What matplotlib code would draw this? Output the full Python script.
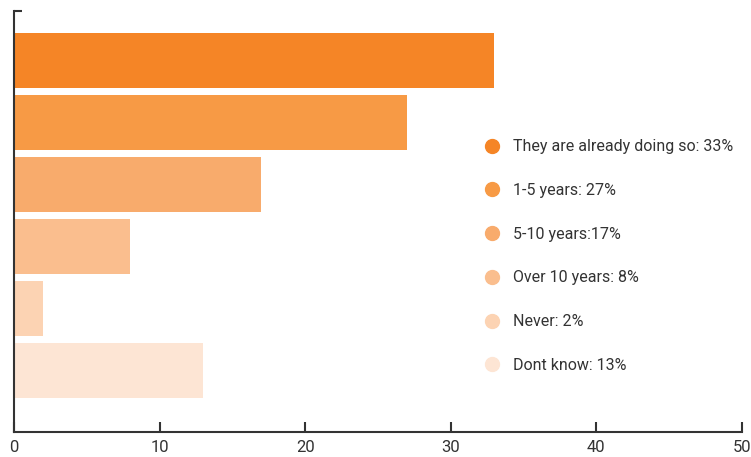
import matplotlib.pyplot as plt
from matplotlib.lines import Line2D

labels = ["They are already doing so: 33%", "1-5 years: 27%", "5-10 years:17%",
          "Over 10 years: 8%", "Never: 2%", "Dont know: 13%"]
values = [33, 27, 17, 8, 2, 13]
colors = ["#F58526", "#F79A45", "#F8AB6C", "#FABE8E", "#FCD3B3", "#FDE5D4"]

plt.rcParams['font.family'] = ['Roboto', 'DejaVu Sans']

fig = plt.figure(figsize=(7.51, 4.57), dpi=100)
ax = fig.add_axes([0.0186, 0.0547, 0.9694, 0.9213])

ypos = list(range(len(values)))
ax.barh(ypos, values, height=0.89, color=colors)
ax.set_xlim(0, 50)
ax.set_ylim(5.99, -0.8)

for s in ['top', 'right']:
    ax.spines[s].set_visible(False)
for s in ['left', 'bottom']:
    ax.spines[s].set_color('#333333')
    ax.spines[s].set_linewidth(1.5)

ax.set_xticks([0, 10, 20, 30, 40, 50])
ax.tick_params(axis='x', direction='in', length=7, width=1.5, color='#333333',
               labelsize=12, labelcolor='#333333', pad=6)
ax.set_yticks([-0.8])
ax.set_yticklabels([])
ax.tick_params(axis='y', direction='in', length=6, width=1.5, color='#333333')

handles = [Line2D([], [], marker='o', linestyle='none', markersize=10,
                  markerfacecolor=c, markeredgecolor=c) for c in colors]
ax.legend(handles, labels, loc='upper left', bbox_to_anchor=(0.626, 0.727),
          bbox_transform=fig.transFigure, frameon=False, fontsize=11.5,
          labelspacing=1.8, handletextpad=0.8, handlelength=1.0,
          labelcolor='#333333')

fig.savefig('out.png', dpi=100)
